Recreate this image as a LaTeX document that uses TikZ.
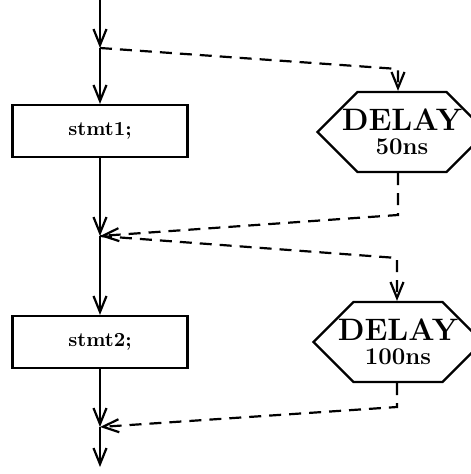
\documentclass[tikz,border=0pt]{standalone}
\usepackage{tikz}
\usetikzlibrary{arrows.meta, shapes.symbols, positioning}

\tikzset{
  stmtbox/.style={draw, line width=1.1pt, minimum width=87.5pt, minimum height=26pt, font=\bfseries},
  delaybox/.style={draw, line width=1.1pt, signal, signal to=west and east, signal pointer angle=90,
    minimum width=84.5pt, minimum height=40pt, inner sep=0pt, align=center, font=\bfseries},
  flow/.style={line width=1.1pt, -{Straight Barb[length=8pt,width=6.5pt]}},
  wait/.style={flow, dash pattern=on 6pt off 4pt},
}
\newcommand{\delaytext}[1]{\makebox[0pt]{\fontsize{15.5}{17}\selectfont DELAY}\\[0pt]\makebox[0pt]{\large #1}}

\begin{document}
\begin{tikzpicture}[x=0.5pt, y=-0.5pt]
    \useasboundingbox (0,0) rectangle (470,474);
    \coordinate (top) at (100,0);
    \coordinate (m1) at (100,48);
    \coordinate (m2) at (100,236);
    \coordinate (m3) at (100,427);
    \coordinate (bot) at (100,467);
    \node[stmtbox] (s1) at (100,131) {stmt1;};
    \node[stmtbox] (s2) at (100,342) {stmt2;};
    \node[delaybox] (d1) at (402,132) {\delaytext{50ns}};
    \node[delaybox] (d2) at (398,342) {\delaytext{100ns}};
    \coordinate (c1) at (398,69);
    \coordinate (c2) at (398,215);
    \coordinate (c3) at (397,258);
    \coordinate (c4) at (397,407);
    % main thread
    \draw[flow] (top) -- (m1);
    \draw[flow] (m1) -- (s1);
    \draw[flow] (s1) -- (m2);
    \draw[flow] (m2) -- (s2);
    \draw[flow] (s2) -- (m3);
    \draw[flow] (m3) -- (bot);
    % delays
    \draw[wait] (m1) -- (c1) -- (c1 |- d1.north);
    \draw[wait] (c1 |- d1.south) -- (c2) -- (m2);
    \draw[wait] (m2) -- (c3) -- (c3 |- d2.north);
    \draw[wait] (c3 |- d2.south) -- (c4) -- (m3);
\end{tikzpicture}
\end{document}
